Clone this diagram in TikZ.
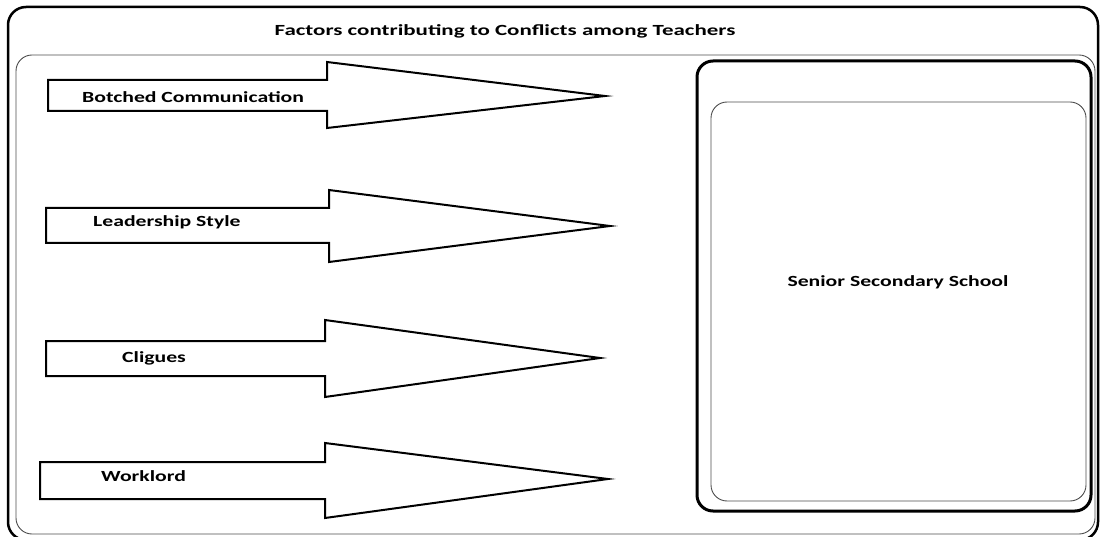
\documentclass[tikz,border=0pt]{standalone}
\usepackage{fontspec}
\setmainfont{Carlito}
\begin{document}
\begin{tikzpicture}[x=1pt,y=-1pt,
  lbl/.style={font=\bfseries\fontsize{15.5}{18}\selectfont, inner sep=0pt, anchor=west},
  blockarrow/.style={draw=black, line width=2pt, line join=miter, fill=white},
  thinbox/.style={draw=black!70, line width=0.9pt, rounded corners=16pt},
]
\useasboundingbox (0,0) rectangle (1100,537);
% outer frame
\draw[line width=2.5pt, rounded corners=18pt] (8,7) rectangle (1098,540);
\draw[thinbox] (16,55) rectangle (1095,534);
% title
\node[lbl, anchor=center] (title) at (505,31) {\scalebox{1.48}[1]{Factors contributing to Conflicts among Teachers}};
% arrows
\draw[blockarrow] (48,80) -- (327,80) -- (327,62) -- (605,96) -- (327,128) -- (327,111) -- (48,111) -- cycle;
\draw[blockarrow] (46,208) -- (329,208) -- (329,190) -- (610,226) -- (329,262) -- (329,243) -- (46,243) -- cycle;
\draw[blockarrow] (46,341) -- (325,341) -- (325,320) -- (600,358) -- (325,397) -- (325,376) -- (46,376) -- cycle;
\draw[blockarrow] (40,462) -- (325,462) -- (325,443) -- (608,479) -- (325,518) -- (325,499) -- (40,499) -- cycle;
\node[lbl] (a1) at (82,97) {\scalebox{1.4}[1]{Botched Communication}};
\node[lbl] (a2) at (93,222) {\scalebox{1.4}[1]{Leadership Style}};
\node[lbl] (a3) at (122,358) {\scalebox{1.4}[1]{Cligues}};
\node[lbl] (a4) at (101,476) {\scalebox{1.4}[1]{Worklord}};
% right box
\draw[line width=3pt, rounded corners=16pt] (697,61) rectangle (1091,511);
\draw[thinbox] (711,102) rectangle (1086,501);
\node[lbl, anchor=center] (school) at (898,282) {\scalebox{1.4}[1]{Senior Secondary School}};
\end{tikzpicture}
\end{document}
